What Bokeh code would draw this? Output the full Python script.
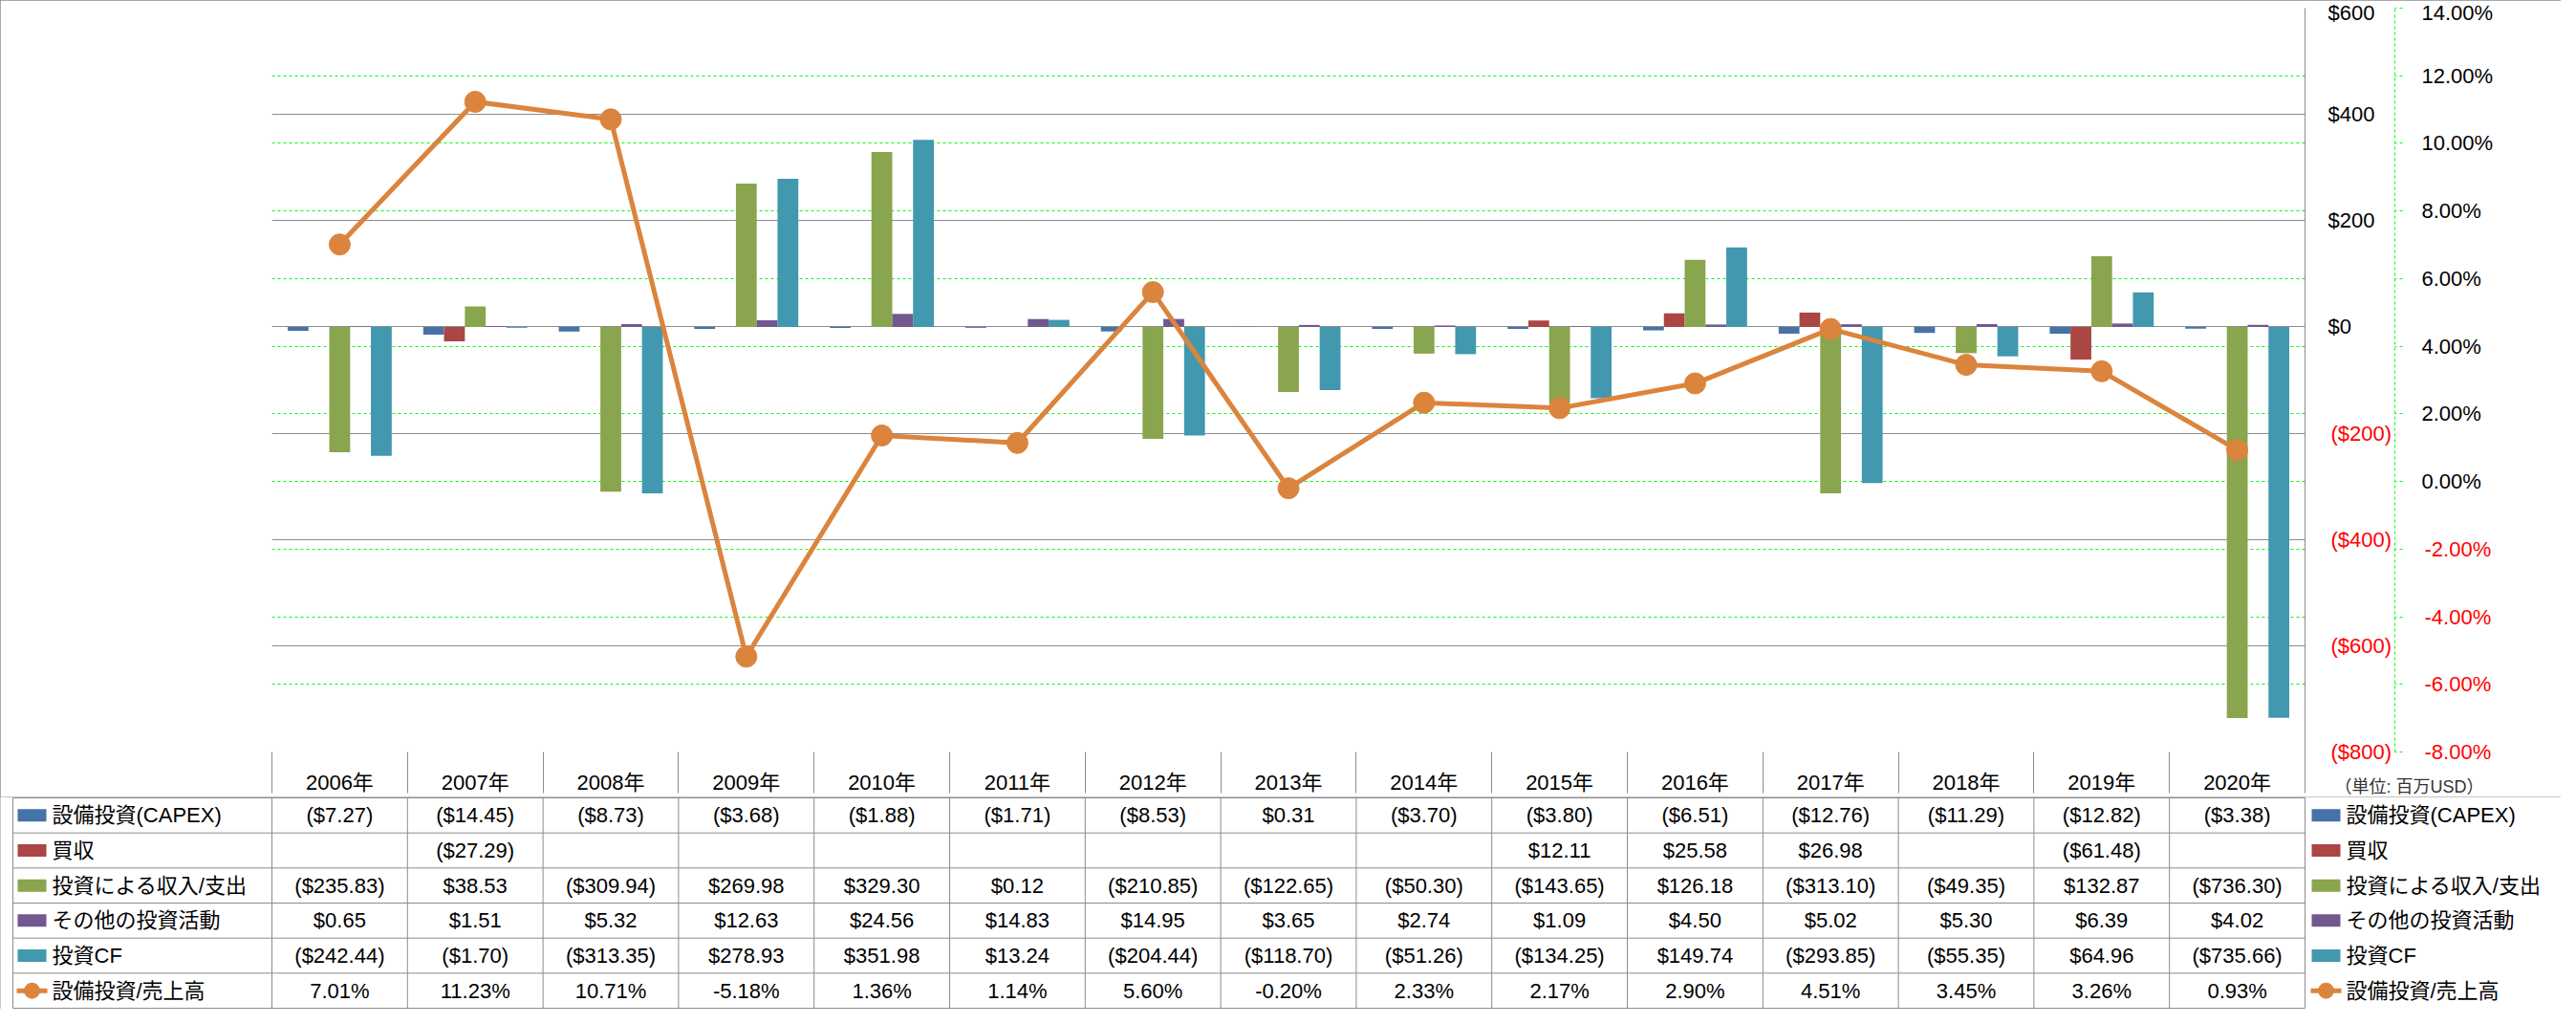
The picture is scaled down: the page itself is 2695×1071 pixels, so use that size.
import math
from bokeh.plotting import figure
from bokeh.models import Range1d, LinearAxis, FixedTicker, Grid, ColumnDataSource, InlineStyleSheet
from bokeh.layouts import column
from bokeh.transform import dodge
from bokeh.core.properties import value
from bokeh.embed import file_html
from bokeh.resources import INLINE

# ---------------- data ----------------
years = ["2006年", "2007年", "2008年", "2009年", "2010年", "2011年", "2012年", "2013年",
         "2014年", "2015年", "2016年", "2017年", "2018年", "2019年", "2020年"]
capex = [-7.27, -14.45, -8.73, -3.68, -1.88, -1.71, -8.53, 0.31, -3.70, -3.80, -6.51, -12.76, -11.29, -12.82, -3.38]
acquisition = [float("nan"), -27.29, float("nan"), float("nan"), float("nan"), float("nan"), float("nan"),
               float("nan"), float("nan"), 12.11, 25.58, 26.98, float("nan"), -61.48, float("nan")]
invest_income = [-235.83, 38.53, -309.94, 269.98, 329.30, 0.12, -210.85, -122.65, -50.30, -143.65, 126.18,
                 -313.10, -49.35, 132.87, -736.30]
other_invest = [0.65, 1.51, 5.32, 12.63, 24.56, 14.83, 14.95, 3.65, 2.74, 1.09, 4.50, 5.02, 5.30, 6.39, 4.02]
invest_cf = [-242.44, -1.70, -313.35, 278.93, 351.98, 13.24, -204.44, -118.70, -51.26, -134.25, 149.74,
             -293.85, -55.35, 64.96, -735.66]
capex_ratio = [7.01, 11.23, 10.71, -5.18, 1.36, 1.14, 5.60, -0.20, 2.33, 2.17, 2.90, 4.51, 3.45, 3.26, 0.93]

series_names = ["設備投資(CAPEX)", "買収", "投資による収入/支出", "その他の投資活動", "投資CF", "設備投資/売上高"]
series_colors = ["#4672A8", "#AA4643", "#89A54E", "#71588F", "#4198AF", "#DB843D"]

primary_ticks = [-800, -600, -400, -200, 0, 200, 400, 600]
primary_labels = ["($800)", "($600)", "($400)", "($200)", "$0", "$200", "$400", "$600"]
pct_ticks = [-8, -6, -4, -2, 0, 2, 4, 6, 8, 10, 12, 14]
pct_labels = ["-8.00%", "-6.00%", "-4.00%", "-2.00%", "0.00%", "2.00%", "4.00%", "6.00%",
              "8.00%", "10.00%", "12.00%", "14.00%"]
unit_note = "（単位: 百万USD）"

# ---------------- layout constants ----------------
FONT_NAME = "Liberation Sans, Noto Sans CJK JP"
FONT = value(FONT_NAME)
FS = "22px"
GRAY = "#8c8c8c"
GREEN = "#00ff00"
RED = "#ff0000"
W = 2679
TOP = 8
FRAME_H = 782
HEADER = 43
CH = TOP + FRAME_H + HEADER
TH = 1055 - CH
RH = (TH - 2) / 6.0
LEFT = 284
FRAME_W = 2127
RIGHT = W - LEFT - FRAME_W

n = len(years)
centers = [i + 0.5 for i in range(n)]
bounds = list(range(n + 1))
BW = 0.1535
BORDER_CSS = InlineStyleSheet(css=":host { outline: 1px solid #8c8c8c; outline-offset: -1px; }")


def money(v):
    if v is None or (isinstance(v, float) and math.isnan(v)):
        return ""
    return f"(${abs(v):.2f})" if v < 0 else f"${v:.2f}"


def pct(v):
    return f"{v:.2f}%"


def no_align(fig):
    if "frame_align" in fig.properties():
        fig.frame_align = False


# ---------------- chart ----------------
p = figure(width=W, height=CH, output_backend="svg", toolbar_location=None,
           x_range=Range1d(0, n), y_range=Range1d(-800, 600),
           x_axis_location=None, y_axis_location=None,
           min_border_left=LEFT, min_border_right=RIGHT, min_border_top=TOP, min_border_bottom=HEADER,
           outline_line_color=None, background_fill_color="white", border_fill_color="white",
           stylesheets=[BORDER_CSS])
no_align(p)
p.extra_y_ranges = {"pct": Range1d(-8, 14)}
p.center = []

p.add_layout(Grid(dimension=1, ticker=FixedTicker(ticks=primary_ticks), grid_line_color=GRAY, grid_line_width=1))
p.add_layout(Grid(dimension=1, ticker=FixedTicker(ticks=pct_ticks), y_range_name="pct",
                  grid_line_color=GREEN, grid_line_width=1, grid_line_dash="3 3"))

src = ColumnDataSource(dict(x=centers, capex=capex, acq=acquisition, inc=invest_income,
                            oth=other_invest, cf=invest_cf, ratio=capex_ratio))
fields = ["capex", "acq", "inc", "oth", "cf"]
for k, f in enumerate(fields):
    off = (k - 2) * BW
    p.vbar(x=dodge("x", off, range=p.x_range), top=f, bottom=0, width=BW, source=src,
           fill_color=series_colors[k], line_color=None)

p.line(x="x", y="ratio", source=src, y_range_name="pct", line_width=5, line_color=series_colors[5],
       line_join="round")
p.scatter(x="x", y="ratio", source=src, y_range_name="pct", size=22, fill_color=series_colors[5],
          line_color=series_colors[5])


def style_axis(ax, size=FS):
    ax.major_label_text_font = FONT_NAME
    ax.major_label_text_font_size = size
    ax.minor_tick_line_color = None
    ax.minor_tick_out = 0
    ax.minor_tick_in = 0
    ax.major_tick_in = 0


# right side: black value labels, red negative labels overlaid, % axis, red % labels, unit note
pos = [(t, l) for t, l in zip(primary_ticks, primary_labels) if t >= 0]
neg = [(t, l) for t, l in zip(primary_ticks, primary_labels) if t < 0]
ax_a = LinearAxis(ticker=FixedTicker(ticks=[t for t, _ in pos]), major_label_overrides=dict(pos),
                  axis_line_color=GRAY, major_tick_line_color=None, major_tick_out=0,
                  major_label_standoff=24, major_label_text_color="black")
ax_b = LinearAxis(ticker=FixedTicker(ticks=[t for t, _ in neg]), major_label_overrides=dict(neg),
                  axis_line_color=None, major_tick_line_color=None, major_tick_out=0,
                  major_label_standoff=-49, major_label_text_color=RED)
pct_over = {t: (l if t >= 0 else "") for t, l in zip(pct_ticks, pct_labels)}
ax_c = LinearAxis(y_range_name="pct", ticker=FixedTicker(ticks=pct_ticks), major_label_overrides=pct_over,
                  axis_line_color=GREEN, axis_line_dash="3 3", major_tick_line_color=GREEN,
                  major_tick_line_dash="3 3", major_tick_out=8, major_label_standoff=20,
                  major_label_text_color="black")
pneg = [(t, l) for t, l in zip(pct_ticks, pct_labels) if t < 0]
ax_d = LinearAxis(y_range_name="pct", ticker=FixedTicker(ticks=[t for t, _ in pneg]),
                  major_label_overrides=dict(pneg), axis_line_color=None, major_tick_line_color=None,
                  major_tick_out=0, major_label_standoff=-75, major_label_text_color=RED)
ax_e = LinearAxis(ticker=FixedTicker(ticks=[-800]), major_label_overrides={-800: "\n\n\n" + unit_note},
                  axis_line_color=None, major_tick_line_color=None, major_tick_out=0,
                  major_label_standoff=-169, major_label_text_color="#333333",
                  major_label_text_line_height=1.2)
for ax in (ax_a, ax_b, ax_c, ax_d):
    style_axis(ax)
    p.add_layout(ax, "right")
style_axis(ax_e, "18px")
p.add_layout(ax_e, "right")

# header row of the data table: cell borders (ticks at category bounds) and years
ax_x = LinearAxis(ticker=FixedTicker(ticks=bounds), major_label_overrides={b: "" for b in bounds},
                  axis_line_color=None, major_tick_line_color=GRAY, major_label_standoff=0)
style_axis(ax_x, "0px")
ax_x.major_tick_out = HEADER
ax_y = LinearAxis(ticker=FixedTicker(ticks=centers), major_label_overrides={c: y for c, y in zip(centers, years)},
                  axis_line_color=None, major_tick_line_color=None, major_tick_out=0,
                  major_label_standoff=19 - HEADER, major_label_text_color="black")
style_axis(ax_y)
p.add_layout(ax_x, "below")
p.add_layout(ax_y, "below")


def px2x(px):
    return (px - LEFT) * n / FRAME_W


# ---------------- data table ----------------
rows = 6
t = figure(width=W, height=TH, output_backend="svg", toolbar_location=None,
           x_range=Range1d(px2x(0), px2x(W)), y_range=Range1d(TH - 1, -1),
           x_axis_location=None, y_axis_location=None, min_border=0,
           min_border_left=0, min_border_right=0, min_border_top=0, min_border_bottom=0,
           outline_line_color=None, background_fill_color="white", border_fill_color="white",
           stylesheets=[BORDER_CSS])
no_align(t)
t.center = []

row_top = [k * RH for k in range(rows + 1)]
row_mid = [(k + 0.5) * RH for k in range(rows)]
xl = px2x(13)
t.segment(x0=[xl] * (rows + 1), x1=[n] * (rows + 1), y0=row_top, y1=row_top, line_color=GRAY, line_width=1)
vx = [xl] + bounds
t.segment(x0=vx, x1=vx, y0=[0] * len(vx), y1=[row_top[-1]] * len(vx), line_color=GRAY, line_width=1)

table_rows = [[money(v) for v in capex], [money(v) for v in acquisition], [money(v) for v in invest_income],
              [money(v) for v in other_invest], [money(v) for v in invest_cf], [pct(v) for v in capex_ratio]]
cx, cy, ct = [], [], []
for r, vals in enumerate(table_rows):
    for c, s in zip(centers, vals):
        cx.append(c)
        cy.append(row_mid[r])
        ct.append(s)
t.text(x=cx, y=cy, text=ct, text_font=FONT, text_font_size=FS, text_color="black",
       text_align="center", text_baseline="middle")

for sx_px, tx_px in ((33, 54), (2433, 2454)):
    t.rect(x=[px2x(sx_px)] * 5, y=row_mid[:5], width=30, height=13, width_units="screen",
           height_units="screen", fill_color=series_colors[:5], line_color=None)
    t.segment(x0=[px2x(sx_px - 16)], x1=[px2x(sx_px + 16)], y0=[row_mid[5]], y1=[row_mid[5]],
              line_color=series_colors[5], line_width=5)
    t.scatter(x=[px2x(sx_px)], y=[row_mid[5]], size=16, fill_color=series_colors[5],
              line_color=series_colors[5])
    t.text(x=[px2x(tx_px)] * rows, y=row_mid, text=series_names, text_font=FONT, text_font_size=FS,
           text_color="black", text_align="left", text_baseline="middle")

layout = column(p, t, spacing=0)
open("out.html", "w").write(file_html(layout, INLINE))
